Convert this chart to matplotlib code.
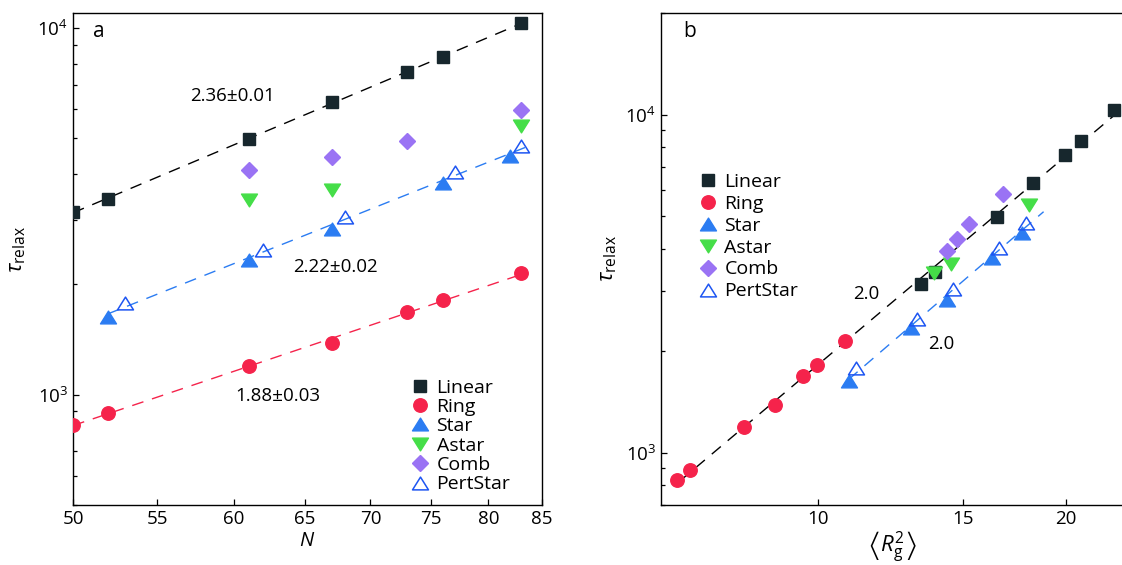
import numpy as np
import matplotlib.pyplot as plt
from matplotlib.path import Path
from matplotlib.ticker import NullLocator, NullFormatter

plt.rcParams['font.family'] = ['Open Sans', 'DejaVu Sans']
plt.rcParams['mathtext.fontset'] = 'custom'
plt.rcParams['mathtext.rm'] = 'Open Sans'
plt.rcParams['mathtext.it'] = 'Open Sans:italic'
plt.rcParams['mathtext.bf'] = 'Open Sans:bold'
plt.rcParams['mathtext.fallback'] = 'stixsans'

# --- дані ---
n_linear = [50, 52, 61, 67, 73, 76, 83]
tau_linear = [3146, 3424, 4978, 6290, 7590, 8340, 10315]
n_ring = [50, 52, 61, 67, 73, 76, 83]
tau_ring = [828, 891, 1195, 1385, 1681, 1813, 2144]
n_star = [52, 61, 67, 76, 82]
tau_star = [1634, 2331, 2827, 3772, 4479]
n_astar = [61, 67, 83]
tau_astar = [3397, 3625, 5410]
n_comb = [61, 67, 73, 83]
tau_comb = [4107, 4453, 4918, 5998]
n_pert = [53, 62, 68, 77, 83]
tau_pert = [1779, 2486, 3044, 4045, 4780]

# <Rg^2> для панелі b
rg_linear = [13.33, 13.86, 16.52, 18.24, 19.98, 20.89, 22.89]
rg_ring = [6.74, 6.99, 8.13, 8.87, 9.59, 9.98, 10.79]
rg_star = [10.92, 12.98, 14.36, 16.27, 17.70]
rg_astar = [13.83, 14.52, 18.07]
rg_comb = [14.34, 14.74, 15.24, 16.79]
tau_comb_b = [3950, 4295, 4736, 5808]  # на панелі b точки Comb трохи нижче
rg_pert = [11.14, 13.18, 14.58, 16.58, 17.89]

names = ['Linear', 'Ring', 'Star', 'Astar', 'Comb', 'PertStar']
slopes_a = ['2.36±0.01', '2.22±0.02', '1.88±0.03']
slopes_b = ['2.0', '2.0']

c_lin = '#17272d'
c_ring = '#f5234b'
c_star = '#2b7cf2'
c_astar = '#45de48'
c_comb = '#9a73f4'
c_pert = '#1d55f2'

# трикутники трохи ширші, ніж стандартні у matplotlib
tri_up = Path([(0, 0.8), (-1, -0.8), (1, -0.8), (0, 0.8)], closed=True)
tri_dn = Path([(0, -0.8), (-1, 0.8), (1, 0.8), (0, -0.8)], closed=True)

styles = [
    dict(marker='s', ms=8.4, color=c_lin),
    dict(marker='o', ms=9.7, color=c_ring),
    dict(marker=tri_up, ms=11.5, color=c_star),
    dict(marker=tri_dn, ms=11.5, color=c_astar),
    dict(marker='D', ms=8.0, color=c_comb),
    dict(marker=tri_up, ms=11.5, mfc='none', mec=c_pert, mew=1.1, color=c_pert),
]


def fit_line(ax, x, y, x0, x1, color):
    """степенева апроксимація, пунктир"""
    k, b = np.polyfit(np.log10(x), np.log10(y), 1)
    xx = np.array([x0, x1])
    ax.plot(xx, 10 ** b * xx ** k, color=color, lw=1.0, dashes=(8.5, 6.5), zorder=1)


def style_axis(ax):
    ax.set_xscale('log')
    ax.set_yscale('log')
    ax.xaxis.set_minor_locator(NullLocator())
    ax.yaxis.set_minor_formatter(NullFormatter())
    ax.tick_params(which='both', direction='in', width=0.9, labelsize=13.5, top=False, right=False)
    ax.tick_params(which='major', length=4.5)
    ax.tick_params(which='minor', length=3)
    for s in ax.spines.values():
        s.set_linewidth(1.0)


fig = plt.figure(figsize=(11.22, 5.65), dpi=100)

# ---------- панель a ----------
ax1 = fig.add_axes([73 / 1122, 60 / 565, 469 / 1122, 492 / 565])
style_axis(ax1)
fit_line(ax1, n_linear, tau_linear, 50, 83, 'black')
fit_line(ax1, n_star + n_pert, tau_star + tau_pert, 52, 83.6, c_star)
fit_line(ax1, n_ring, tau_ring, 50, 83, c_ring)

data_a = [(n_linear, tau_linear), (n_ring, tau_ring), (n_star, tau_star),
          (n_astar, tau_astar), (n_comb, tau_comb), (n_pert, tau_pert)]
for (x, y), st, nm in zip(data_a, styles, names):
    ax1.plot(x, y, ls='none', label=nm, zorder=3, **st)

ax1.set_xlim(50, 85)
ax1.set_ylim(500, 11000)
ax1.set_xticks([50, 55, 60, 65, 70, 75, 80, 85], labels=['50', '55', '60', '65', '70', '75', '80', '85'])
ax1.set_xlabel('$N$', fontsize=14.5, labelpad=2)
ax1.set_ylabel(r'$\tau_\mathrm{relax}$', fontsize=16)
ax1.yaxis.set_label_coords(-0.095, 0.52)
ax1.text(0.043, 0.963, 'a', transform=ax1.transAxes, fontsize=15, va='center')
ax1.annotate(slopes_a[0], xy=(0.341, 0.831), xycoords='axes fraction', fontsize=13.5, ha='center', va='center')
ax1.annotate(slopes_a[1], xy=(0.560, 0.484), xycoords='axes fraction', fontsize=13.5, ha='center', va='center')
ax1.annotate(slopes_a[2], xy=(0.437, 0.221), xycoords='axes fraction', fontsize=13.5, ha='center', va='center')
ax1.legend(loc='upper left', bbox_to_anchor=(0.72, 0.257), frameon=False, fontsize=14,
           handlelength=1.0, handletextpad=0.33, labelspacing=0.07, borderpad=0, borderaxespad=0)

# ---------- панель b ----------
ax2 = fig.add_axes([661 / 1122, 60 / 565, 462.4 / 1122, 492 / 565])
style_axis(ax2)
fit_line(ax2, rg_ring + rg_linear, tau_ring + tau_linear, 6.8, 23.0, 'black')
fit_line(ax2, rg_star + rg_pert, tau_star + tau_pert, 10.9, 18.8, c_star)

data_b = [(rg_linear, tau_linear), (rg_ring, tau_ring), (rg_star, tau_star),
          (rg_astar, tau_astar), (rg_comb, tau_comb_b), (rg_pert, tau_pert)]
for (x, y), st, nm in zip(data_b, styles, names):
    ax2.plot(x, y, ls='none', label=nm, zorder=3, **st)

ax2.set_xlim(6.45, 23.5)
ax2.set_ylim(700, 20000)
ax2.set_xticks([10, 15, 20], labels=['10', '15', '20'])
ax2.set_xlabel(r'$\left\langle R_\mathrm{g}^2 \right\rangle$', fontsize=16, labelpad=1)
ax2.set_ylabel(r'$\tau_\mathrm{relax}$', fontsize=16)
ax2.yaxis.set_label_coords(-0.09, 0.50)
ax2.text(0.048, 0.963, 'b', transform=ax2.transAxes, fontsize=15, va='center')
ax2.annotate(slopes_b[0], xy=(0.443, 0.429), xycoords='axes fraction', fontsize=13.5, ha='center', va='center')
ax2.annotate(slopes_b[1], xy=(0.605, 0.327), xycoords='axes fraction', fontsize=13.5, ha='center', va='center')
ax2.legend(loc='upper left', bbox_to_anchor=(0.081, 0.675), frameon=False, fontsize=14,
           handlelength=1.0, handletextpad=0.33, labelspacing=0.2, borderpad=0, borderaxespad=0)

fig.savefig('out.png', dpi=100)
